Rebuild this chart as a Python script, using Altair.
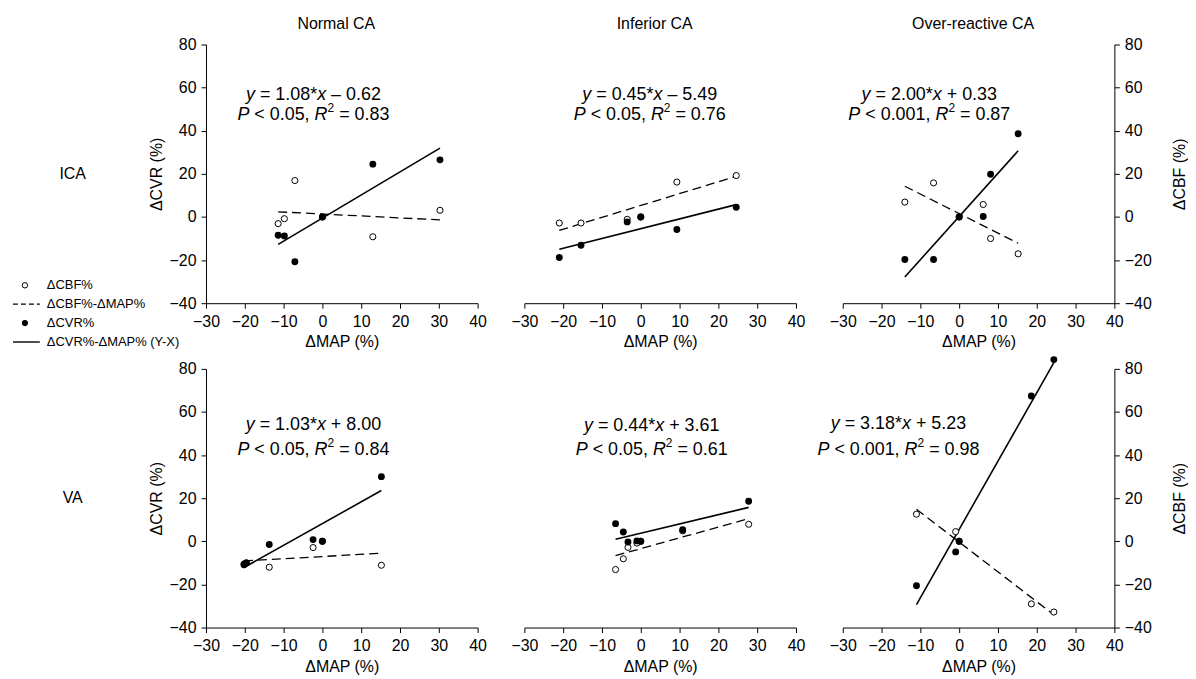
import altair as alt
import pandas as pd

FONT = "Liberation Sans"

row_names = ["ICA", "VA"]
col_names = ["Normal CA", "Inferior CA", "Over-reactive CA"]

# ΔMAP (%) per subject, ΔCBF (%) (open) and ΔCVR (%) (filled)
ica_normal_map = [-11.4, -9.8, -7.1, 0.0, 13.0, 30.3]
ica_normal_cbf = [-3.1, -0.8, 16.9, 0.0, -9.2, 3.1]
ica_normal_cvr = [-8.5, -8.8, -20.8, 0.0, 24.5, 26.5]

ica_inferior_map = [-21.0, -15.4, -3.5, 0.0, 9.3, 24.6]
ica_inferior_cbf = [-2.8, -2.8, -1.1, 0.0, 16.2, 19.2]
ica_inferior_cvr = [-18.8, -13.1, -2.3, 0.0, -5.8, 4.5]

ica_over_map = [-14.0, -6.6, 0.0, 6.2, 8.1, 15.2]
ica_over_cbf = [6.9, 15.8, 0.0, 5.8, -10.0, -17.1]
ica_over_cvr = [-19.7, -19.7, 0.0, 0.2, 19.8, 38.6]

va_normal_map = [-20.2, -19.6, -13.7, -2.4, 0.0, 15.2]
va_normal_cbf = [-10.5, -10.0, -12.0, -2.9, 0.0, -11.1]
va_normal_cvr = [-10.9, -10.0, -1.5, 0.8, 0.0, 30.0]

va_inferior_map = [-6.5, -4.5, -3.3, -1.0, 0.0, 10.8, 27.8]
va_inferior_cbf = [-13.1, -8.1, -2.8, -0.8, 0.0, 4.8, 7.9]
va_inferior_cvr = [8.2, 4.3, -0.3, 0.2, 0.0, 5.4, 18.6]

va_over_map = [-11.0, -0.9, 0.0, 18.6, 24.4]
va_over_cbf = [12.6, 4.5, 0.0, -29.0, -32.8]
va_over_cvr = [-20.6, -4.9, 0.0, 67.4, 84.3]

# regression annotations
eq_slope = [["1.08", "0.45", "2.00"], ["1.03", "0.44", "3.18"]]
eq_icpt = [["– 0.62", "– 5.49", "+ 0.33"], ["+ 8.00", "+ 3.61", "+ 5.23"]]
eq_p = [["0.05", "0.05", "0.001"], ["0.05", "0.05", "0.001"]]
eq_r2 = [["0.83", "0.76", "0.87"], ["0.84", "0.61", "0.98"]]

legend_labels = ["ΔCBF%", "ΔCBF%-ΔMAP%", "ΔCVR%", "ΔCVR%-ΔMAP% (Y-X)"]
legend_kinds = ["open", "dashed", "filled", "solid"]

x_ticks = [-30, -20, -10, 0, 10, 20, 30, 40]
y_ticks = [-40, -20, 0, 20, 40, 60, 80]

panel_data = [
    [(ica_normal_map, ica_normal_cbf, ica_normal_cvr),
     (ica_inferior_map, ica_inferior_cbf, ica_inferior_cvr),
     (ica_over_map, ica_over_cbf, ica_over_cvr)],
    [(va_normal_map, va_normal_cbf, va_normal_cvr),
     (va_inferior_map, va_inferior_cbf, va_inferior_cvr),
     (va_over_map, va_over_cbf, va_over_cvr)],
]

# layout (pixels)
PW, PH = 273, 260
LEFT_W = 152
EQ_SIZE = 18
SUP_SIZE = 12
eq_pos = [
    [(108, 49, 70), (126, 49, 70), (87, 49, 70)],
    [(108, 55, 80), (128, 56, 80), (56, 54, 80)],
]

# advance widths (em) of Liberation Sans / Arial glyphs used in the annotations
CW = {" ": 0.278, ".": 0.278, ",": 0.278, "=": 0.584, "+": 0.584, "<": 0.584,
      "*": 0.389, "–": 0.556, "y": 0.5, "x": 0.5, "P": 0.667, "R": 0.722}


def text_width(s, size):
    return sum(CW.get(ch, 0.556) for ch in s) * size


def rich_line(segments, cx, cy):
    """segments: (text, style, size, rise). Returns text layers laid out left to right."""
    total = sum(text_width(t, sz) for t, _, sz, _ in segments)
    x = cx - total / 2.0
    base_y = cy + 0.35 * EQ_SIZE
    out = []
    one = pd.DataFrame({"k": [0]})
    for t, style, sz, rise in segments:
        body = t.strip(" ")
        lead = len(t) - len(t.lstrip(" "))
        x_draw = x + lead * CW[" "] * sz
        out.append(alt.Chart(one).mark_text(
            align="left", baseline="alphabetic", fontSize=sz, font=FONT,
            fontStyle=style, color="black").encode(
            x=alt.value(round(x_draw, 2)), y=alt.value(round(base_y - rise, 2)),
            text=alt.value(body)))
        x += text_width(t, sz)
    return out


def make_panel(r, c):
    mp, cbf, cvr = panel_data[r][c]
    n = len(mp)
    df = pd.DataFrame({"x": mp + mp, "y": cbf + cvr, "s": ["CBF"] * n + ["CVR"] * n})
    xaxis = alt.Axis(title="ΔMAP (%)", values=x_ticks, titlePadding=5)
    if c == 0:
        yaxis = alt.Axis(title="ΔCVR (%)", values=y_ticks, orient="left", titlePadding=5)
    elif c == 2:
        yaxis = alt.Axis(title="ΔCBF (%)", values=y_ticks, orient="right",
                         titleAngle=270, titleBaseline="top", titlePadding=20)
    else:
        yaxis = None
    xenc = alt.X("x:Q", scale=alt.Scale(domain=[-30, 40], nice=False, zero=False), axis=xaxis)
    yenc = alt.Y("y:Q", scale=alt.Scale(domain=[-40, 80], nice=False, zero=False), axis=yaxis)
    base = alt.Chart(df)
    dashed = (base.transform_filter("datum.s == 'CBF'")
              .transform_regression("x", "y")
              .mark_line(color="black", strokeWidth=1.3, strokeDash=[9, 5])
              .encode(x=xenc, y=yenc))
    solid = (base.transform_filter("datum.s == 'CVR'")
             .transform_regression("x", "y")
             .mark_line(color="black", strokeWidth=1.6)
             .encode(x=xenc, y=yenc))
    open_pts = (base.transform_filter("datum.s == 'CBF'")
                .mark_point(shape="circle", filled=True, fill="white", stroke="black",
                            strokeWidth=1, size=38, opacity=1)
                .encode(x=xenc, y=yenc))
    filled_pts = (base.transform_filter("datum.s == 'CVR'")
                  .mark_circle(color="black", size=48, opacity=1)
                  .encode(x=xenc, y=yenc))
    ex, ey1, ey2 = eq_pos[r][c]
    line1 = [("y", "italic", EQ_SIZE, 0), (f" = {eq_slope[r][c]}*", "normal", EQ_SIZE, 0),
             ("x", "italic", EQ_SIZE, 0), (f" {eq_icpt[r][c]}", "normal", EQ_SIZE, 0)]
    line2 = [("P", "italic", EQ_SIZE, 0), (f" < {eq_p[r][c]}, ", "normal", EQ_SIZE, 0),
             ("R", "italic", EQ_SIZE, 0), ("2", "normal", SUP_SIZE, 8),
             (f" = {eq_r2[r][c]}", "normal", EQ_SIZE, 0)]
    layers = [dashed, solid, open_pts, filled_pts]
    layers += rich_line(line1, ex, ey1)
    layers += rich_line(line2, ex, ey2)
    if r == 0:
        tdf = pd.DataFrame({"t": [col_names[c]]})
        title = alt.Chart(tdf).mark_text(fontSize=16, font=FONT, color="black").encode(
            x=alt.value(131), y=alt.value(-21), text="t:N")
        layers.append(title)
    return alt.layer(*layers).properties(width=PW, height=PH)


def make_left(r):
    rdf = pd.DataFrame({"t": [row_names[r]]})
    label = alt.Chart(rdf).mark_text(fontSize=16, font=FONT, color="black").encode(
        x=alt.value(65), y=alt.value(130), text="t:N")
    layers = [label]
    if r == 0:
        ldf = pd.DataFrame({"label": legend_labels, "kind": legend_kinds})
        ly = alt.Y("label:N", scale=alt.Scale(type="point", domain=legend_labels,
                                              range=[242, 299], padding=0), axis=None)
        lb = alt.Chart(ldf)
        layers += [
            lb.transform_filter("datum.kind == 'dashed'").mark_rule(
                color="black", strokeWidth=1.2, strokeDash=[5, 3]).encode(
                x=alt.value(5), x2=alt.value(32), y=ly),
            lb.transform_filter("datum.kind == 'solid'").mark_rule(
                color="black", strokeWidth=1.4).encode(
                x=alt.value(5), x2=alt.value(32), y=ly),
            lb.transform_filter("datum.kind == 'open'").mark_point(
                shape="circle", filled=True, fill="white", stroke="black",
                strokeWidth=1, size=30, opacity=1).encode(x=alt.value(17), y=ly),
            lb.transform_filter("datum.kind == 'filled'").mark_circle(
                color="black", size=38, opacity=1).encode(x=alt.value(17), y=ly),
            lb.mark_text(align="left", baseline="middle", fontSize=13, font=FONT,
                         color="black").encode(x=alt.value(39), y=ly, text="label:N"),
        ]
    return alt.layer(*layers).properties(width=LEFT_W, height=PH)


views = []
for r in range(2):
    views.append(make_left(r))
    views.extend(make_panel(r, c) for c in range(3))

chart = alt.concat(*views, columns=4, spacing={"row": 66, "column": 47},
                   bounds="flush").properties(
    padding={"left": 0, "top": 6, "right": 0, "bottom": 0}
).configure_view(stroke=None).configure_axis(
    grid=False, domainColor="black", tickColor="black", labelColor="black",
    titleColor="black", labelFont=FONT, titleFont=FONT, labelFontSize=16,
    titleFontSize=16, titleFontWeight="normal", tickSize=5, labelPadding=5,
    labelFlush=False, labelOverlap=False, domainWidth=1, tickWidth=1
)

chart.save("out.html", embed_options={"renderer": "svg", "actions": False})
